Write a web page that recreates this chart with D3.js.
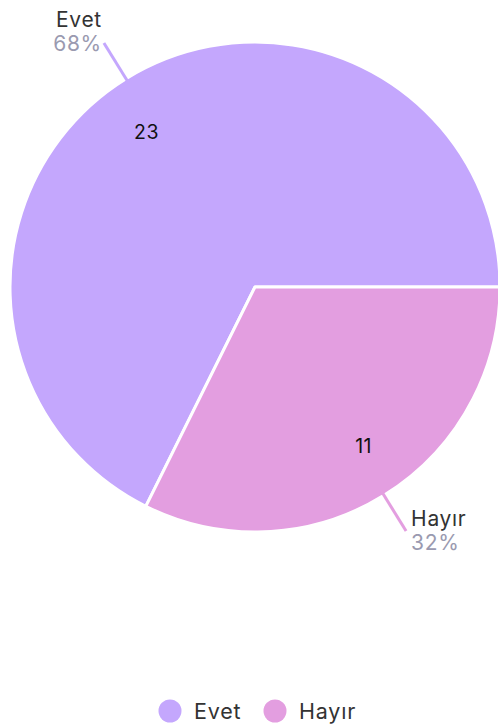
<!DOCTYPE html>
<html>
<head>
<meta charset="utf-8">
<script src="https://cdn.jsdelivr.net/npm/d3@7"></script>
<style>
  body { margin: 0; background: #fff; overflow: hidden; }
  svg { display: block; font-family: Inter, "Open Sans", sans-serif; }
</style>
</head>
<body>
<div id="graf"></div>
<script>
// datos
categorias = ['Evet', 'Hayır']
valores = [23, 11]
colores = ['#c4a7fd', '#e39ee0']

ancho = 498
alto = 727
centro = { x: 255, y: 287 }
radio = 245

svg = d3.select('#graf').append('svg')
  .attr('width', ancho)
  .attr('height', alto)

g = svg.append('g')
  .attr('transform', `translate(${centro.x}, ${centro.y})`)

datos = categorias.map((c, i) => ({ cat: c, valor: valores[i] }))
total = d3.sum(valores)

color = d3.scaleOrdinal()
  .domain(categorias)
  .range(colores)

// empieza Evet despues de la porcion de Hayir (que arranca a las 3 en punto)
inicio = Math.PI / 2 + 2 * Math.PI * valores[1] / total
pie = d3.pie()
  .sort(null)
  .value(d => d.valor)
  .startAngle(inicio)
  .endAngle(inicio + 2 * Math.PI)

arco = d3.arc().innerRadius(0).outerRadius(radio)
arcoLinea1 = d3.arc().innerRadius(240).outerRadius(240)
arcoLinea2 = d3.arc().innerRadius(287).outerRadius(287)

porciones = pie(datos)

g.selectAll('path.slice')
  .data(porciones)
  .enter()
  .append('path')
    .attr('class', 'slice')
    .attr('d', arco)
    .attr('fill', d => color(d.data.cat))
    .attr('stroke', '#fff')
    .attr('stroke-width', 3)
    .attr('stroke-linejoin', 'round')

// valores dentro (un poco girados respecto al centro del arco)
function posInterna(d) {
  a = (d.startAngle + d.endAngle) / 2 - 0.05
  return [Math.sin(a) * 191, -Math.cos(a) * 191 + 2]
}
g.selectAll('text.valor')
  .data(porciones)
  .enter()
  .append('text')
    .attr('class', 'valor')
    .attr('transform', d => `translate(${posInterna(d)})`)
    .attr('text-anchor', 'middle')
    .attr('dy', '0.36em')
    .style('font-size', '19.5px')
    .style('letter-spacing', '0.4px')
    .style('fill', '#111')
    .text(d => d.data.valor)

// lineas guia
g.selectAll('line.guia')
  .data(porciones)
  .enter()
  .append('line')
    .attr('class', 'guia')
    .attr('x1', d => arcoLinea1.centroid(d)[0])
    .attr('y1', d => arcoLinea1.centroid(d)[1])
    .attr('x2', d => arcoLinea2.centroid(d)[0])
    .attr('y2', d => arcoLinea2.centroid(d)[1])
    .attr('stroke', d => color(d.data.cat))
    .attr('stroke-width', 3)

// etiquetas externas
etiquetas = g.selectAll('g.etiqueta')
  .data(porciones)
  .enter()
  .append('g')
    .attr('class', 'etiqueta')
    .attr('transform', d => {
      p = arcoLinea2.centroid(d)
      izq = p[0] < 0
      arriba = p[1] < 0
      return `translate(${p[0] + (izq ? -2 : 5)}, ${p[1] + (arriba ? -16 : -5)})`
    })
    .attr('text-anchor', d => arcoLinea2.centroid(d)[0] < 0 ? 'end' : 'start')

etiquetas.append('text')
  .style('font-size', '21px')
  .style('letter-spacing', '0.7px')
  .style('fill', '#333')
  .text(d => d.data.cat)

etiquetas.append('text')
  .attr('y', 24)
  .style('font-size', '21px')
  .style('letter-spacing', '0.7px')
  .style('fill', '#9a9ab0')
  .text(d => Math.round(d.data.valor / total * 100) + '%')

// leyenda
leyendaX = d3.scalePoint()
  .domain(categorias)
  .range([170, 275])

leyenda = svg.selectAll('g.leyenda')
  .data(categorias)
  .enter()
  .append('g')
    .attr('class', 'leyenda')
    .attr('transform', d => `translate(${leyendaX(d)}, 711)`)

leyenda.append('circle')
  .attr('r', 11.5)
  .attr('fill', d => color(d))

leyenda.append('text')
  .attr('x', 24)
  .attr('dy', '0.36em')
  .style('font-size', '21.5px')
  .style('letter-spacing', '0.8px')
  .style('fill', '#333')
  .text(d => d)
</script>
</body>
</html>
